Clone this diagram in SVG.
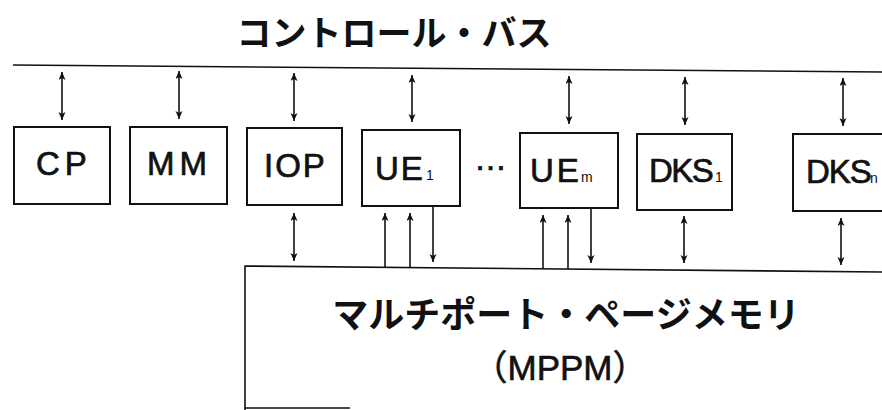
<svg xmlns="http://www.w3.org/2000/svg" width="882" height="410" viewBox="0 0 882 410">
  <defs>
    <marker id="ah" markerUnits="userSpaceOnUse" markerWidth="10" markerHeight="8" refX="8" refY="3.5" orient="auto-start-reverse">
      <path d="M0,0 L8,3.5 L0,7 L2,3.5 z" fill="#111"/>
    </marker>
    <style>
      .box{fill:#fff;stroke:#111;stroke-width:2}
      .lbl{font-family:"Liberation Sans",Arial,sans-serif;font-size:33px;fill:#111;stroke:#111;stroke-width:0.7px}
      .sub{font-family:"Liberation Sans",Arial,sans-serif;font-size:14px;fill:#111}
      .jp{font-family:"Noto Sans CJK JP","Noto Sans CJK SC",sans-serif;font-weight:bold;fill:#111;text-anchor:middle}
      .line{stroke:#111;stroke-width:1.6;fill:none}
      .bi{stroke:#111;stroke-width:1.6;fill:none;marker-start:url(#ah);marker-end:url(#ah)}
      .uni{stroke:#111;stroke-width:1.6;fill:none;marker-end:url(#ah)}
    </style>
  </defs>
  <rect width="882" height="410" fill="#fff"/>

  <g id="bus">
    <text class="jp" x="394" y="46" font-size="35">コントロール・バス</text>
    <line class="line" x1="13" y1="65" x2="882" y2="72"/>
  </g>

  <g id="CP">
    <rect class="box" x="14" y="127" width="96" height="77"/>
    <text class="lbl" x="36" y="175" letter-spacing="5">CP</text>
  </g>
  <g id="MM">
    <rect class="box" x="130" y="127" width="97" height="77"/>
    <text class="lbl" x="147" y="175" letter-spacing="5">MM</text>
  </g>
  <g id="IOP">
    <rect class="box" x="247" y="128" width="95" height="77"/>
    <text class="lbl" x="264" y="177" letter-spacing="2">IOP</text>
  </g>
  <g id="UE1">
    <rect class="box" x="362" y="130" width="98" height="76"/>
    <text class="lbl" x="375" y="180" letter-spacing="2">UE</text>
    <text class="sub" x="426" y="180">1</text>
  </g>
  <g id="ellipsis">
    <text class="lbl" x="474" y="170" font-size="30" stroke-width="0">…</text>
  </g>
  <g id="UEm">
    <rect class="box" x="520" y="133" width="98" height="75"/>
    <text class="lbl" x="530" y="182" letter-spacing="3">UE</text>
    <text class="sub" x="581" y="182" font-size="15">m</text>
  </g>
  <g id="DKS1">
    <rect class="box" x="637" y="134" width="95" height="76"/>
    <text class="lbl" x="649" y="182" font-size="30" letter-spacing="-1.5">DKS</text>
    <text class="sub" x="715" y="182">1</text>
  </g>
  <g id="DKSn">
    <rect class="box" x="793" y="134" width="100" height="77"/>
    <text class="lbl" x="806" y="183" font-size="30" letter-spacing="-1">DKS</text>
    <text class="sub" x="870" y="183" font-size="14">n</text>
  </g>

  <g id="MPPM">
    <path class="line" d="M882,272 L245,266 L245,410 M245,408 L350,408" stroke-width="2"/>
    <text class="jp" x="566" y="328" font-size="36">マルチポート・ページメモリ</text>
    <text x="560" y="380" font-size="35" fill="#111" stroke="#111" stroke-width="0.6" text-anchor="middle" font-family="Liberation Sans,'Noto Sans CJK JP',sans-serif">（MPPM）</text>
  </g>

  <g id="connectors">
    <line class="bi" x1="62" y1="72" x2="62" y2="120"/>
    <line class="bi" x1="179" y1="71" x2="179" y2="119"/>
    <line class="bi" x1="294" y1="73" x2="294" y2="121"/>
    <line class="bi" x1="412" y1="75" x2="412" y2="122"/>
    <line class="bi" x1="569" y1="76" x2="569" y2="124"/>
    <line class="bi" x1="685" y1="77" x2="685" y2="125"/>
    <line class="bi" x1="843" y1="78" x2="843" y2="126"/>

    <line class="bi" x1="294" y1="213" x2="294" y2="261"/>
    <line class="uni" x1="385" y1="267" x2="385" y2="213"/>
    <line class="uni" x1="410" y1="267" x2="410" y2="213"/>
    <line class="uni" x1="433" y1="206" x2="433" y2="262"/>
    <line class="uni" x1="543" y1="269" x2="543" y2="215"/>
    <line class="uni" x1="568" y1="269" x2="568" y2="215"/>
    <line class="uni" x1="591" y1="208" x2="591" y2="263"/>
    <line class="bi" x1="684" y1="216" x2="684" y2="263"/>
    <line class="bi" x1="841" y1="218" x2="841" y2="265"/>
  </g>
</svg>
